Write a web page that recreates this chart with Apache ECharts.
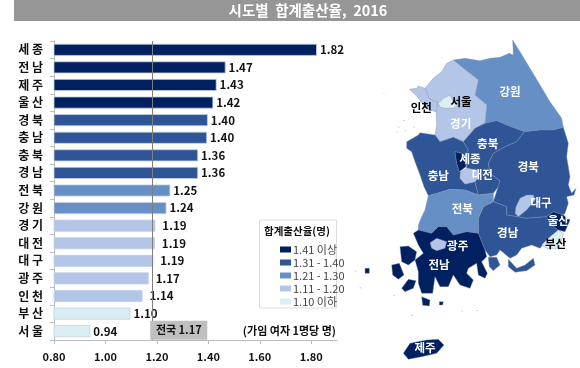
<!DOCTYPE html>
<html>
<head>
<meta charset="utf-8">
<script src="https://cdn.jsdelivr.net/npm/echarts@6/dist/echarts.min.js"></script>
<style>
html, body { margin: 0; padding: 0; background: #fff; }
#chart { width: 580px; height: 368px; }
</style>
</head>
<body>
<div id="chart"></div>
<script>
// 시도별 합계출산율
var regionNames = ['세종', '전남', '제주', '울산', '경북', '충남', '충북', '경남', '전북', '강원', '경기', '대전', '대구', '광주', '인천', '부산', '서울'];
var birthRates = [1.822, 1.467, 1.432, 1.419, 1.398, 1.395, 1.36, 1.36, 1.252, 1.237, 1.194, 1.192, 1.186, 1.168, 1.144, 1.097, 0.941];
var nationalRate = 1.175;
var xTicks = [0.8, 1.0, 1.2, 1.4, 1.6, 1.8];

var classLabels = ['1.10 이하', '1.11 - 1.20', '1.21 - 1.30', '1.31 - 1.40', '1.41 이상'];
var classBreaks = [0, 1.105, 1.205, 1.305, 1.405, 9];
var classColors = ['#dbeef4', '#b4c6e7', '#6690c5', '#2f5597', '#00205f'];

// 지도 윤곽 (지도 단위)
var gangwonShape = [[310,90],[345,85],[390,92],[420,85],[450,82],[478,70],[490,75],[488,30],[510,65],[540,115],[570,165],[600,215],[635,265],[640,292],[610,300],[570,300],[523,305],[470,285],[440,272],[405,280],[410,225],[375,195],[385,150],[340,115]];
var gyeonggiShape = [[310,90],[340,115],[385,150],[375,195],[410,225],[405,280],[375,295],[340,335],[310,322],[270,335],[255,315],[260,285],[258,240],[262,218],[235,205],[225,175],[250,145],[275,125],[290,100]];
var incheonShape = [[178,178],[200,175],[205,168],[228,176],[236,205],[262,218],[260,245],[238,240],[215,218],[200,198]];
var seoulShape = [[265,220],[280,205],[300,195],[310,215],[325,225],[310,235],[285,235],[270,232]];
var chungnamShape = [[170,335],[205,315],[210,308],[255,315],[270,335],[310,322],[340,335],[355,360],[345,378],[335,370],[315,365],[320,400],[328,425],[332,425],[330,445],[345,462],[375,455],[385,495],[345,480],[300,478],[262,490],[235,497],[222,470],[210,435],[195,395],[185,365],[170,355]];
var chungbukShape = [[340,335],[375,295],[405,280],[440,272],[470,285],[523,305],[500,335],[465,350],[430,370],[415,400],[420,430],[450,452],[445,470],[430,490],[385,495],[375,455],[385,440],[380,420],[350,415],[345,378],[355,360]];
var sejongShape = [[315,365],[335,370],[345,385],[348,410],[328,425],[320,400]];
var daejeonShape = [[350,415],[380,420],[385,440],[375,455],[345,462],[330,445],[332,425]];
var gyeongbukShape = [[640,292],[655,340],[650,380],[660,440],[655,465],[665,490],[678,475],[672,495],[650,500],[655,520],[645,550],[640,555],[610,545],[590,560],[530,565],[470,555],[470,530],[430,515],[450,452],[420,430],[415,400],[430,370],[465,350],[500,335],[523,305],[570,300],[610,300]];
var daeguShape = [[498,530],[510,505],[530,495],[550,495],[555,510],[530,540],[505,560],[495,550]];
var ulsanShape = [[590,560],[610,545],[640,555],[660,570],[645,605],[625,600],[605,585]];
var busanShape = [[575,645],[595,625],[625,600],[640,610],[635,630],[620,655],[590,655]];
var gyeongnamShape = [[430,515],[470,530],[470,555],[530,565],[590,560],[605,585],[625,600],[590,630],[570,655],[545,645],[515,655],[500,675],[480,685],[450,660],[440,675],[420,680],[405,660],[385,610],[385,565],[400,530]];
var gyeongnamIslands = [[[415,682],[440,682],[450,705],[430,722],[418,710]], [[475,688],[500,715],[525,705],[550,685],[555,705],[530,722],[495,727],[475,710]]];
var jeonbukShape = [[205,600],[205,585],[215,560],[225,540],[235,497],[262,490],[300,478],[345,480],[385,495],[430,490],[430,515],[400,530],[385,565],[385,610],[350,605],[310,615],[290,590],[265,590],[245,610]];
var gwangjuShape = [[240,638],[260,625],[290,635],[285,655],[260,662],[245,655]];
var jeonnamShape = [[205,600],[245,610],[265,590],[290,590],[310,615],[350,605],[385,610],[405,660],[410,680],[395,695],[412,730],[405,745],[385,735],[380,700],[355,715],[350,730],[370,750],[360,775],[330,765],[310,735],[295,770],[270,770],[255,740],[248,790],[215,790],[205,760],[205,725],[195,690],[220,670],[205,645],[190,610]];
var jeonnamIslands = [[[150,650],[175,648],[200,665],[195,690],[175,705],[155,695]], [[125,705],[148,700],[162,735],[145,748],[128,735]], [[155,775],[175,748],[198,752],[190,775],[165,785]], [[215,800],[240,810],[238,828],[218,826]], [[268,815],[280,815],[278,825],[268,825]], [[45,715],[58,715],[58,730],[45,730]]];
var jejuShape = [[160,970],[180,940],[230,930],[265,928],[282,945],[260,970],[215,980],[175,988]];
var speckSpots = [[100,190],[145,290],[160,270],[190,290],[140,305],[165,300],[15,722],[185,855],[335,842],[380,840],[30,772],[130,795]];

var nameSpots = {
	'강원': [480,185], '서울': [333,215], '인천': [214,233], '경기': [332,280], '충북': [413,340], '세종': [360,387],
	'충남': [265,438], '대전': [397,433], '경북': [535,410], '대구': [573,518], '울산': [625,572], '부산': [617,640],
	'경남': [473,607], '전북': [337,537], '광주': [323,647], '전남': [267,703], '제주': [225,952]
};

function feature(name, polys) {
	return {
		type: 'Feature',
		properties: { name: name, cp: nameSpots[name] },
		geometry: { type: 'MultiPolygon', coordinates: polys.map(function(p) { return [p.concat([p[0]])]; }) }
	};
}

var specks = speckSpots.map(function(s) {
	return [[s[0], s[1]], [s[0] + 3, s[1]], [s[0] + 3, s[1] + 3], [s[0], s[1] + 3]];
});

echarts.registerMap('korea', {
	type: 'FeatureCollection',
	features: [
		feature('섬', specks),
		feature('강원', [gangwonShape]),
		feature('경기', [gyeonggiShape]),
		feature('인천', [incheonShape]),
		feature('서울', [seoulShape]),
		feature('충남', [chungnamShape]),
		feature('충북', [chungbukShape]),
		feature('세종', [sejongShape]),
		feature('대전', [daejeonShape]),
		feature('경북', [gyeongbukShape]),
		feature('대구', [daeguShape]),
		feature('경남', [gyeongnamShape].concat(gyeongnamIslands)),
		feature('울산', [ulsanShape]),
		feature('부산', [busanShape]),
		feature('전북', [jeonbukShape]),
		feature('전남', [jeonnamShape].concat(jeonnamIslands)),
		feature('광주', [gwangjuShape]),
		feature('제주', [jejuShape])
	]
});

var chartFont = '"Noto Sans CJK KR", "Noto Sans", sans-serif';
var pieces = classLabels.map(function(label, i) {
	return { min: classBreaks[i], max: classBreaks[i + 1], label: label, color: classColors[i] };
});

var barData = birthRates.map(function(v) {
	// 1.1~1.2 구간은 라벨이 막대에서 조금 떨어져 있음
	return { value: v, label: { distance: (v > 1.1 && v < 1.2) ? 7 : 3 } };
});
var mapData = regionNames.map(function(name, i) {
	var dark = name === '서울' || name === '인천' || name === '부산';
	return { name: name, value: birthRates[i], label: { color: dark ? '#000' : '#fff' } };
});

var chart = echarts.init(document.getElementById('chart'));
chart.setOption({
	animation: false,
	textStyle: { fontFamily: chartFont },
	graphic: [
		{ type: 'rect', shape: { x: 14, y: 0, width: 566, height: 21 }, style: { fill: '#969696' }, silent: true },
		{ type: 'text', x: 308, y: 10, style: { text: '시도별  합계출산율,  2016', fill: '#fff', font: 'bold 14.5px ' + chartFont, textAlign: 'center', textVerticalAlign: 'middle' }, silent: true },
		{ type: 'rect', shape: { x: 259.5, y: 220, width: 77, height: 88 }, style: { fill: '#fff', stroke: '#dcdcdc', lineWidth: 1 }, z: 1, silent: true },
		{ type: 'text', x: 264, y: 231, style: { text: '합계출산율(명)', fill: '#111', font: 'bold 10.5px ' + chartFont, textVerticalAlign: 'middle' }, z: 2, silent: true },
		{ type: 'text', x: 336, y: 331, style: { text: '(가임 여자 1명당 명)', fill: '#111', font: 'bold 11px ' + chartFont, textAlign: 'right', textVerticalAlign: 'middle' }, z: 2, silent: true }
	],
	grid: { left: 54, right: 243, top: 41, bottom: 28 },
	xAxis: {
		type: 'value',
		min: 0.8,
		max: 1.9,
		interval: 0.2,
		splitLine: { show: false },
		axisLine: { show: true, lineStyle: { color: '#bdbdbd' } },
		axisTick: { show: true, customValues: xTicks, length: 4, lineStyle: { color: '#bdbdbd' } },
		axisLabel: { customValues: xTicks, margin: 11, color: '#111', fontWeight: 'bold', fontSize: 11, fontFamily: chartFont, formatter: function(v) { return v.toFixed(2); } }
	},
	yAxis: {
		type: 'category',
		inverse: true,
		data: regionNames,
		axisLine: { show: true, lineStyle: { color: '#bdbdbd' } },
		axisTick: { show: true, length: 4, lineStyle: { color: '#bdbdbd' } },
		axisLabel: { margin: 11, color: '#111', fontWeight: 'bold', fontSize: 12, fontFamily: chartFont, formatter: function(v) { return v.charAt(0) + ' ' + v.charAt(1); } }
	},
	visualMap: {
		type: 'piecewise',
		seriesIndex: [0, 1],
		dimension: 0,
		pieces: pieces,
		left: 265,
		top: 229,
		itemWidth: 11,
		itemHeight: 6,
		itemGap: 2,
		itemSymbol: 'rect',
		textGap: 2,
		align: 'left',
		selectedMode: false,
		hoverLink: false,
		showLabel: true,
		textStyle: { color: '#444', fontSize: 11, fontFamily: chartFont }
	},
	series: [{
		name: '합계출산율',
		type: 'bar',
		barWidth: 12,
		data: barData,
		itemStyle: { borderColor: '#c3cfe6', borderWidth: 0.8 },
		label: { show: true, position: 'right', color: '#111', fontWeight: 'bold', fontSize: 11.5, fontFamily: chartFont, formatter: function(p) { return p.value.toFixed(2); } },
		markLine: {
			silent: true,
			symbol: 'none',
			label: { show: false },
			lineStyle: { color: '#7f7f7f', width: 1, type: 'solid' },
			data: [{ xAxis: nationalRate }]
		},
		markPoint: {
			silent: true,
			symbol: 'rect',
			symbolSize: [57, 19],
			symbolOffset: [0, -1],
			itemStyle: { color: '#bfbfbf' },
			label: { show: true, position: 'inside', color: '#111', fontWeight: 'bold', fontSize: 11, fontFamily: chartFont, formatter: '전국 1.17' },
			data: [{ coord: [nationalRate + 0.11, '서울'] }]
		}
	}, {
		name: '지도',
		type: 'map',
		map: 'korea',
		silent: true,
		roam: false,
		aspectScale: 1,
		projection: {
			project: function(p) { return p; },
			unproject: function(p) { return p; }
		},
		boundingCoords: [[0, 0], [690, 1014]],
		left: 350,
		top: 30,
		width: 230,
		height: 338,
		data: mapData,
		itemStyle: { areaColor: '#c8ccd4', borderColor: '#7f8fb4', borderWidth: 0.4 },
		label: { show: true, fontSize: 11.5, fontWeight: 'bold', fontFamily: chartFont, color: '#fff' },
		regions: [{ name: '섬', label: { show: false }, itemStyle: { borderWidth: 0 } }]
	}]
});
</script>
</body>
</html>
